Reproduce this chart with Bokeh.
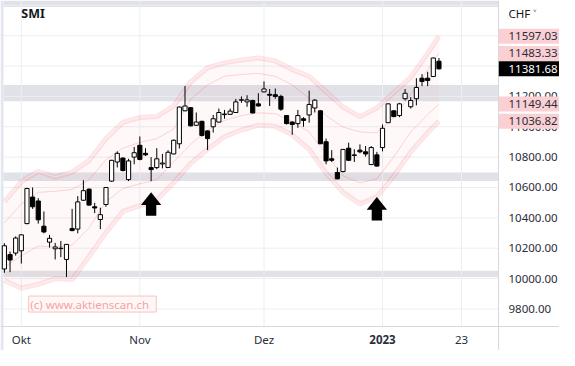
from bokeh.plotting import figure
from bokeh.models import Range1d
from bokeh.core.properties import value
from bokeh.embed import file_html
from bokeh.resources import INLINE

# ---- data (trading-day index 0 = 28 Sep 2022 ... 77 = 17 Jan 2023) ----
open_ = [10063, 10158, 10168, 10183, 10362, 10537, 10511, 10345, 10240, 10196,
         10197, 10126, 10330, 10326, 10516, 10589, 10473, 10389, 10488, 10642,
         10768, 10794, 10652, 10800, 10878, 10825, 10731, 10731, 10755, 10732,
         10821, 10888, 11105, 11126, 11010, 11036, 10973, 11000, 11031, 11080,
         11082, 11094, 11175, 11164, 11173, 11151, 11230, 11214, 11211, 11200,
         11074, 11031, 11021, 11053, 11078, 11124, 11105, 10901, 10789, 10699,
         10705, 10859, 10811, 10846, 10835, 10751, 10815, 10863, 11027, 11105,
         11074, 11185, 11132, 11185, 11320, 11320, 11331, 11432]
high = [10233, 10178, 10278, 10292, 10598, 10600, 10530, 10442, 10288, 10235,
        10248, 10228, 10459, 10543, 10648, 10594, 10499, 10467, 10602, 10782,
        10838, 10798, 10789, 10867, 10936, 10859, 10800, 10859, 10821, 10846,
        10916, 11133, 11268, 11130, 11094, 11040, 10975, 11078, 11120, 11111,
        11120, 11183, 11200, 11208, 11179, 11221, 11299, 11249, 11252, 11211,
        11078, 11036, 11111, 11063, 11238, 11183, 11108, 10922, 10846, 10731,
        10853, 10895, 10852, 10884, 10873, 10873, 10835, 11015, 11154, 11108,
        11158, 11249, 11195, 11320, 11347, 11362, 11455, 11453]
low = [10038, 10042, 10151, 10099, 10358, 10459, 10362, 10298, 10204, 10126,
       10141, 10010, 10312, 10298, 10512, 10480, 10431, 10326, 10473, 10638,
       10732, 10706, 10642, 10753, 10779, 10808, 10642, 10720, 10726, 10730,
       10818, 10857, 11103, 11003, 11006, 10936, 10846, 10962, 11029, 11053,
       11080, 11092, 11158, 11132, 11088, 11134, 11227, 11137, 11185, 11105,
       11015, 10947, 10993, 11000, 11027, 11094, 10886, 10753, 10768, 10654,
       10699, 10775, 10768, 10825, 10804, 10749, 10738, 10838, 11025, 11064,
       11063, 11173, 11120, 11141, 11268, 11268, 11328, 11378]
close = [10216, 10122, 10267, 10288, 10593, 10473, 10387, 10307, 10265, 10208,
         10200, 10225, 10316, 10505, 10579, 10484, 10465, 10421, 10600, 10779,
         10825, 10712, 10775, 10829, 10785, 10815, 10718, 10789, 10761, 10832,
         10911, 11130, 11137, 11006, 11031, 10943, 10922, 11053, 11094, 11084,
         11103, 11164, 11178, 11177, 11091, 11137, 11249, 11208, 11200, 11116,
         11021, 11015, 11074, 11042, 11147, 11175, 10888, 10775, 10779, 10657,
         10851, 10779, 10815, 10835, 10821, 10863, 10741, 10990, 11151, 11067,
         11151, 11221, 11173, 11259, 11299, 11305, 11453, 11381.68]

# channel lines (read at every third trading day)
band_idx = [0, 3, 6, 9, 12, 15, 18, 21, 24, 27, 30, 33, 36, 39, 42, 45, 48, 51,
            54, 57, 60, 63, 66, 69, 72, 75, 77]
outer_upper = [10505, 10638, 10707, 10669, 10701, 10777, 10922, 11029, 11061, 11067,
               11137, 11295, 11389, 11421, 11440, 11453, 11434, 11377, 11333, 11231,
               11130, 11067, 11124, 11225, 11326, 11484, 11597.03]
inner_upper = [10366, 10492, 10568, 10575, 10587, 10650, 10783, 10859, 10897, 10922,
               10985, 11181, 11276, 11333, 11345, 11352, 11333, 11276, 11187, 11074,
               10998, 10966, 10960, 11061, 11213, 11377, 11483.33]
inner_lower = [10075, 10151, 10214, 10208, 10221, 10334, 10505, 10593, 10625, 10650,
               10770, 10884, 10979, 11042, 11074, 11092, 11086, 11036, 10966, 10821,
               10676, 10631, 10657, 10802, 10966, 11080, 11149.44]
outer_lower = [9987, 9936, 9962, 10000, 9993, 10145, 10303, 10442, 10480, 10518,
               10631, 10758, 10852, 10935, 10979, 11010, 11004, 10947, 10852, 10695,
               10568, 10492, 10537, 10676, 10834, 10960, 11036.82]

zone_low = [10010, 10642, 11168, 11789]
zone_high = [10052, 10699, 11276, 11832]

month_ticks = [3, 24, 46, 67, 81]
month_labels = ["Okt", "Nov", "Dez", "2023", "23"]
month_bold = [False, False, False, True, False]
price_ticks = [9800, 10000, 10200, 10400, 10600, 10800, 11000, 11200, 11400, 11600]
grid_prices = price_ticks + [11800]

tag_values = [11597.03, 11483.33, 11381.68, 11149.44, 11036.82]
tag_is_close = [False, False, True, False, False]

arrow_idx = [26, 66]
arrow_tip = [10568, 10537]

# ---- layout (data-space frame edges) ----
x_start, x_sep = -0.16, 87.55          # plot area left edge / price-scale separator
x_full_start, x_full_end = -0.69, 98.36
y_sep, y_end = 9684, 11832             # time-scale separator / top
y_full_start = 9526

FONT = "Noto Sans"
TXT = "#2a2e39"
LINE = "#d6d8de"
GRID = "#eceef2"
RED = "#f23645"

p = figure(width=559, height=350, x_range=Range1d(x_full_start, x_full_end),
           y_range=Range1d(y_full_start, y_end), x_axis_location=None, y_axis_location=None,
           toolbar_location=None, output_backend="svg",
           min_border_left=0, min_border_right=0, min_border_top=0, min_border_bottom=0)
p.outline_line_color = None
p.grid.visible = False
p.background_fill_color = "white"
p.border_fill_color = "white"

# left page strip
p.quad(left=x_full_start, right=x_start, bottom=y_full_start, top=y_end,
       fill_color="#e3e6ee", line_color=None)

# support / resistance zones
p.quad(left=x_start, right=x_sep, bottom=zone_low, top=zone_high,
       fill_color="#e0e2e8", line_color=None)

# grid lines
p.segment(x0=month_ticks, y0=y_sep, x1=month_ticks, y1=y_end, line_color=GRID, line_width=1)
p.segment(x0=x_start, y0=grid_prices, x1=x_sep, y1=grid_prices, line_color=GRID, line_width=1)

# channel
p.varea(x=band_idx, y1=outer_lower, y2=outer_upper, fill_color=RED, fill_alpha=0.035)
for ser in (outer_upper, outer_lower):
    p.line(band_idx, ser, line_color=RED, line_width=5, line_alpha=0.13)
    p.line(band_idx, ser, line_color="white", line_width=1.5, line_alpha=0.35)
for ser in (inner_upper, inner_lower):
    p.line(band_idx, ser, line_color=RED, line_width=1, line_alpha=0.2)

# candles
idx = list(range(len(close)))
p.segment(x0=idx, y0=high, x1=idx, y1=low, line_color="black", line_width=1)
up = [i for i in idx if close[i] >= open_[i]]
dn = [i for i in idx if close[i] < open_[i]]
p.vbar(x=up, width=0.74, top=[close[i] for i in up], bottom=[open_[i] for i in up],
       fill_color="white", line_color="black", line_width=1)
p.vbar(x=dn, width=0.74, top=[open_[i] for i in dn], bottom=[close[i] for i in dn],
       fill_color="black", line_color="black", line_width=1)

# signal arrows
hh, hw, sw, sh = 84, 1.8, 0.92, 70
axs = [[i - hw, i, i + hw, i + sw, i + sw, i - sw, i - sw] for i in arrow_idx]
ays = [[t - hh, t, t - hh, t - hh, t - hh - sh, t - hh - sh, t - hh] for t in arrow_tip]
p.patches(axs, ays, fill_color="black", line_color=None)

# scale separators
p.segment(x0=x_sep, y0=y_full_start, x1=x_sep, y1=y_end, line_color=LINE, line_width=1)
p.segment(x0=x_full_start, y0=y_sep, x1=x_full_end, y1=y_sep, line_color=LINE, line_width=1)

# price scale labels
p.text(x=x_sep, y=price_ticks, text=[f"{v:.2f}" for v in price_ticks], x_offset=10,
       text_font=value(FONT), text_font_size="11.5px", text_color=TXT,
       text_align="left", text_baseline="middle")
p.text(x=x_sep, y=11745, text=["CHF \u02c5"], x_offset=10,
       text_font=value(FONT), text_font_size="11.5px", text_color="#131722",
       text_align="left", text_baseline="middle")

# last-value tags
tag_fill = ["black" if c else "#fbd0d4" for c in tag_is_close]
tag_txt = ["white" if c else TXT for c in tag_is_close]
p.rect(x=(x_sep + x_full_end) / 2, y=tag_values, width=(x_full_end - x_sep) - 0.1,
       height=15, height_units="screen", fill_color=tag_fill, line_color=None)
p.text(x=x_sep, y=tag_values, text=[f"{v:.2f}" for v in tag_values], x_offset=10,
       text_font=value(FONT), text_font_size="11.5px", text_color=tag_txt,
       text_align="left", text_baseline="middle")

# time scale labels
for bold in (False, True):
    sel = [k for k in range(len(month_ticks)) if month_bold[k] == bold]
    p.text(x=[month_ticks[k] for k in sel], y=y_sep, text=[month_labels[k] for k in sel],
           y_offset=13, text_font=value(FONT), text_font_size="11.5px",
           text_font_style="bold" if bold else "normal", text_color=TXT,
           text_align="center", text_baseline="middle")

# title and watermark
p.text(x=3.0, y=11745, text=["SMI"], text_font=value(FONT), text_font_size="12.5px",
       text_font_style="bold", text_color="#131722", text_baseline="middle")
p.rect(x=15.6, y=9832, width=22.6, height=16, height_units="screen",
       fill_color="#fff6f6", line_color="#f7c3c3", line_width=1)
p.text(x=4.6, y=9832, text=["(c) www.aktienscan.ch"], text_font=value(FONT),
       text_font_size="11.5px", text_color="#f4a3a3", text_baseline="middle")

open("out.html", "w").write(file_html(p, INLINE))
